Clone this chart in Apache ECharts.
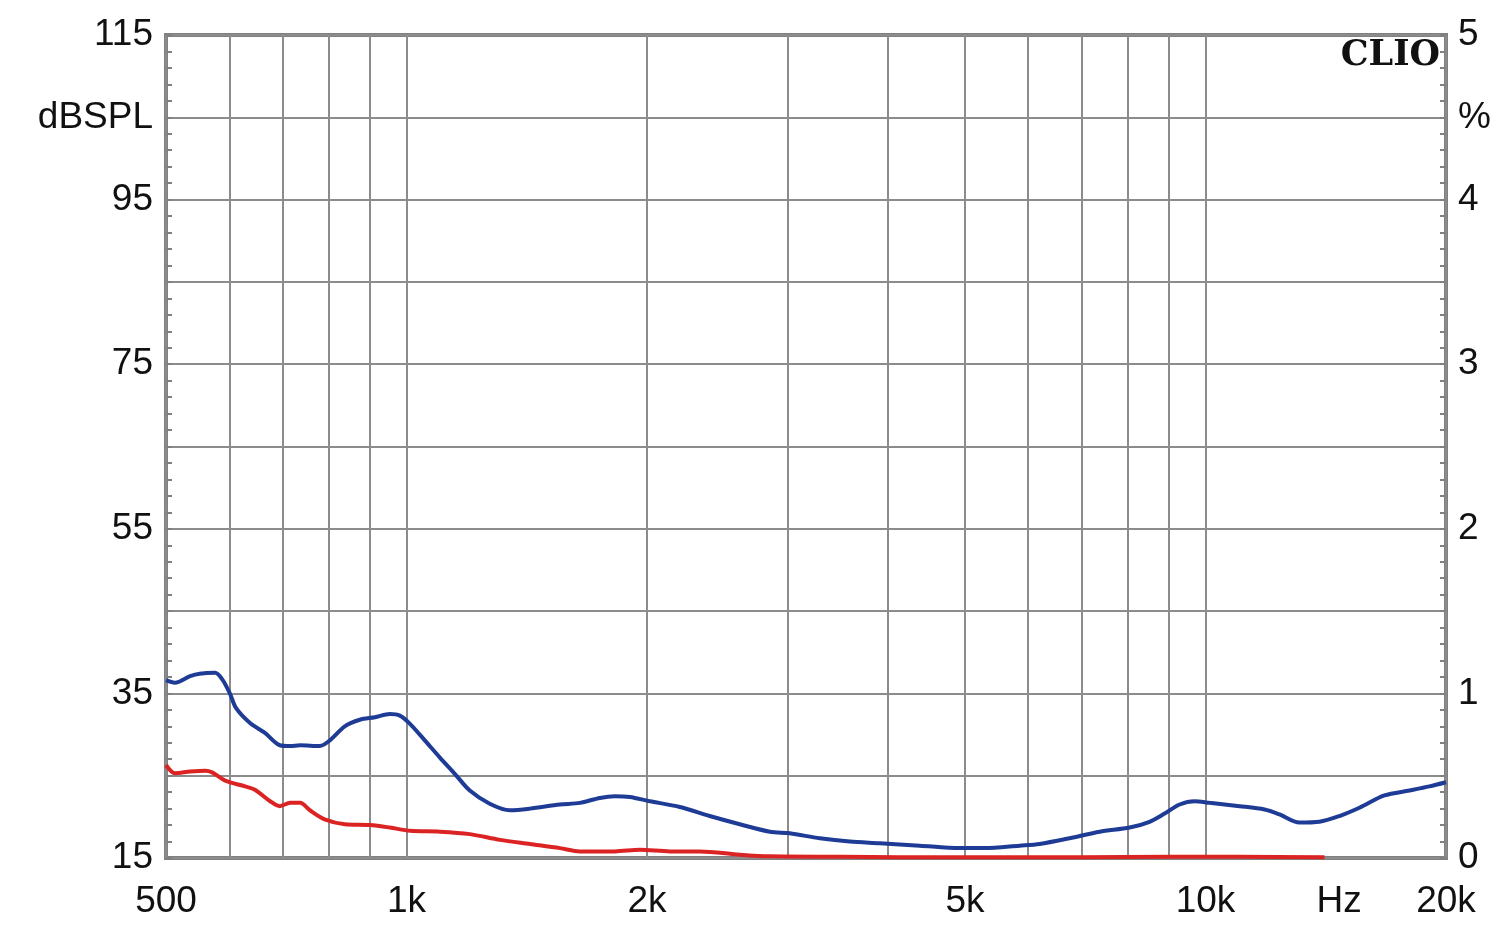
<!DOCTYPE html>
<html><head><meta charset="utf-8">
<script src="https://cdn.jsdelivr.net/npm/echarts@6/dist/echarts.min.js"></script>
<style>html,body{margin:0;padding:0;background:#fff}#c{width:1500px;height:933px}</style>
</head><body><div id="c"></div>
<script>
// Frequencies (Hz) and levels (dBSPL)
const blueFreq = [500,513,536,551,576,588,601,612,637,665,694,715,736,779,802,837,874,913,953,981,1010,1054,1101,1150,1200,1271,1347,1427,1556,1648,1746,1823,1903,2016,2198,2396,2613,2849,3018,3290,3587,3911,4389,4925,5292,5852,6200,6761,7372,8038,8510,8889,9281,9690,10118,11034,11856,12379,13108,13888,14713,15584,16748,18000,19068,20000];
const blueDb = [36.6,36.3,37.1,37.4,37.5,36.7,35.0,33.2,31.4,30.2,28.7,28.6,28.7,28.6,29.3,31.0,31.8,32.1,32.5,32.3,31.3,29.3,27.2,25.2,23.2,21.6,20.8,21.0,21.5,21.7,22.3,22.5,22.4,21.9,21.2,20.1,19.1,18.2,18.0,17.4,17.0,16.8,16.5,16.2,16.2,16.5,16.7,17.4,18.2,18.7,19.4,20.4,21.5,21.9,21.7,21.3,20.9,20.3,19.3,19.4,20.1,21.1,22.6,23.2,23.7,24.2];
const redFreq = [500,513,536,560,571,593,628,646,675,694,715,736,757,790,837,900,953,1010,1101,1200,1309,1427,1556,1648,1823,1959,2136,2328,2613,2849,3500,4143,5526,7000,9000,11000,14090];
const redDb = [26.3,25.3,25.5,25.6,25.4,24.4,23.7,23.3,21.9,21.3,21.7,21.7,20.8,19.7,19.1,19.0,18.7,18.3,18.2,17.9,17.2,16.7,16.2,15.8,15.8,16.0,15.8,15.8,15.4,15.2,15.15,15.1,15.1,15.1,15.15,15.15,15.1];

// Axis ticks / labels
const xGridFreqs = [500,600,700,800,900,1000,2000,3000,4000,5000,6000,7000,8000,9000,10000,20000];
const xLabelFreqs = [500,1000,2000,5000,10000,14700,20000];
const xLabelTexts = ['500','1k','2k','5k','10k','Hz','20k'];
const yLeftGrid = [15,25,35,45,55,65,75,85,95,105,115];
const yLeftLabelVals = [15,35,55,75,95,105,115];
const yLeftLabelTexts = ['15','35','55','75','95','dBSPL','115'];
const yRightLabelVals = [0,1,2,3,4,4.5,5];
const yRightLabelTexts = ['0','1','2','3','4','%','5'];

const minor = [];
for (let v = 15; v <= 115.001; v += 2) minor.push(+v.toFixed(2));
const minorR = [];
for (let v = 0; v <= 5.0001; v += 0.1) minorR.push(+v.toFixed(2));

const lg = f => Math.log10(f);
const xMin = lg(500), xMax = lg(20000);

function nearestLabel(vals, texts, v, tr) {
  let best = 0, bd = Infinity;
  vals.forEach((x, i) => { const d = Math.abs(tr(x) - v); if (d < bd) { bd = d; best = i; } });
  return bd < 1e-6 ? texts[best] : '';
}

const FONT = '"Liberation Sans", Arial, sans-serif';
const labelStyle = { color: '#111', fontSize: 37, fontFamily: FONT };

const chart = echarts.init(document.getElementById('c'), null, { renderer: 'canvas' });
chart.setOption({
  animation: false,
  backgroundColor: '#fff',
  grid: { left: 166, right: 54, top: 35, bottom: 75, show: true, borderColor: '#808080', borderWidth: 4, backgroundColor: 'transparent' },
  xAxis: [{
    type: 'value', min: xMin, max: xMax,
    axisLine: { show: false },
    axisTick: { show: false, customValues: xGridFreqs.map(lg) },
    splitLine: { show: true, lineStyle: { color: '#8c8c8c', width: 2 } },
    axisLabel: Object.assign({ margin: 25, customValues: xLabelFreqs.map(lg),
      formatter: v => nearestLabel(xLabelFreqs, xLabelTexts, v, lg) }, labelStyle)
  }],
  yAxis: [{
    type: 'value', position: 'left', min: 15, max: 115,
    axisLine: { show: false },
    axisTick: { show: true, inside: true, length: 6, customValues: minor, lineStyle: { color: '#808080', width: 2 } },
    splitLine: { show: false },
    axisLabel: Object.assign({ margin: 13, customValues: yLeftLabelVals,
      formatter: v => nearestLabel(yLeftLabelVals, yLeftLabelTexts, v, x => x) }, labelStyle)
  }, {
    type: 'value', position: 'right', min: 0, max: 5,
    axisLine: { show: false },
    axisTick: { show: true, inside: true, length: 6, customValues: minorR, lineStyle: { color: '#808080', width: 2 } },
    splitLine: { show: false },
    axisLabel: Object.assign({ margin: 12, customValues: yRightLabelVals,
      formatter: v => nearestLabel(yRightLabelVals, yRightLabelTexts, v, x => x) }, labelStyle)
  }, {
    type: 'value', position: 'left', min: 15, max: 115,
    axisLine: { show: false },
    axisTick: { show: false, customValues: yLeftGrid },
    axisLabel: { show: false },
    splitLine: { show: true, lineStyle: { color: '#8c8c8c', width: 2 } }
  }],
  graphic: [{
    type: 'text', right: 60, top: 38, z: 100,
    style: { text: 'CLIO', fill: '#111', font: 'bold 35px "DejaVu Serif", serif' }
  }],
  series: [{
    name: 'blue', type: 'line', yAxisIndex: 0, showSymbol: false, smooth: 0.3,
    lineStyle: { color: '#1e3c96', width: 4 }, itemStyle: { color: '#1e3c96' },
    data: blueFreq.map((f, i) => [lg(f), blueDb[i]]), z: 3
  }, {
    name: 'red', type: 'line', yAxisIndex: 0, showSymbol: false, smooth: 0.3,
    lineStyle: { color: '#dc2323', width: 4 }, itemStyle: { color: '#dc2323' },
    data: redFreq.map((f, i) => [lg(f), redDb[i]]), z: 4
  }]
});
</script></body></html>
